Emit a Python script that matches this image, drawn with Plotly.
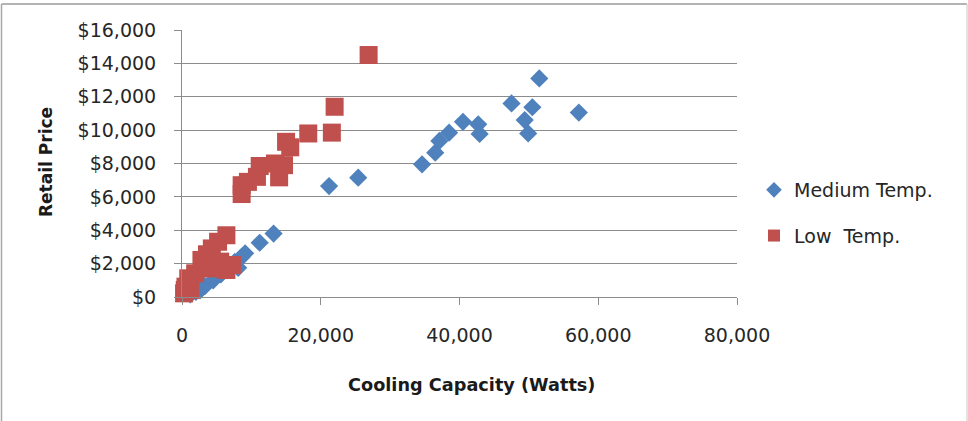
import plotly.graph_objects as go

# Refrigeration units: cooling capacity (W) vs retail price (USD)
medium_watts = [1200, 2000, 2600, 3300, 4500, 5600, 6800, 7600, 8100, 8600, 9100,
                11200, 13200, 21200, 25400, 34600, 36500, 37100, 38500, 40500,
                42700, 42900, 47500, 49400, 49900, 50500, 51500, 57200]
medium_price = [150, 300, 400, 650, 1000, 1350, 1700, 2100, 1750, 2400, 2620,
                3250, 3800, 6650, 7150, 7950, 8650, 9350, 9850, 10500,
                10350, 9770, 11600, 10600, 9800, 11370, 13100, 11050]

low_watts = [300, 400, 500, 900, 1200, 1900, 2800, 3000, 3600, 4300, 4500, 5200,
             5500, 6000, 6400, 6400, 7200, 8600, 8600, 9500, 10800, 11200, 13400,
             14000, 14700, 15000, 15600, 18200, 21600, 22000, 26900]
low_price = [220, 420, 620, 1120, 420, 1420, 2220, 1720, 2560, 2910, 1720, 3310,
             2120, 1720, 3700, 1620, 1920, 6170, 6700, 6900, 7200, 7850, 8000,
             7170, 7900, 9300, 8970, 9800, 9850, 11400, 14500]

x_ticks = [0, 20000, 40000, 60000, 80000]
y_ticks = [0, 2000, 4000, 6000, 8000, 10000, 12000, 14000, 16000]

FONT = "DejaVu Sans"
TEXT = "#262626"
GRID = "#8c8c8c"

W, H = 968, 421
L, R, T, B = 182, 231, 30, 124
pw, ph = W - L - R, H - T - B


def px_x(p):
    return (p - L) / pw


def px_y(p):
    return 1 - (p - T) / ph


fig = go.Figure()
fig.add_trace(go.Scatter(
    x=medium_watts, y=medium_price, mode="markers", name="Medium Temp.",
    legendgroup="m", cliponaxis=False,
    marker=dict(symbol="diamond", size=14, color="#4F81BD", line=dict(width=0)),
))
fig.add_trace(go.Scatter(
    x=low_watts, y=low_price, mode="markers", name="Low  Temp.",
    legendgroup="l", cliponaxis=False,
    marker=dict(symbol="square", size=18, color="#C0504D", line=dict(width=0)),
))

fig.update_layout(
    width=W, height=H,
    margin=dict(l=L, r=R, t=T, b=B, autoexpand=False),
    paper_bgcolor="white", plot_bgcolor="white",
    font=dict(family=FONT, size=19, color=TEXT),
    showlegend=True,
    legend=dict(
        x=px_x(754), y=px_y(171), xanchor="left", yanchor="top",
        font=dict(family=FONT, size=19, color=TEXT),
        itemsizing="constant", tracegroupgap=18,
        bgcolor="rgba(0,0,0,0)",
    ),
    xaxis=dict(
        range=[0, 80000], tickvals=x_ticks, tickformat=",",
        showgrid=False, zeroline=False,
        showline=True, linecolor=GRID, linewidth=1,
        ticks="outside", ticklen=7, tickcolor=GRID, tickwidth=1,
        ticklabelstandoff=14,
        tickfont=dict(family=FONT, size=19, color=TEXT),
    ),
    yaxis=dict(
        range=[0, 16000], tickvals=y_ticks, tickformat="$,",
        showgrid=True, gridcolor=GRID, gridwidth=1, zeroline=False,
        showline=True, linecolor=GRID, linewidth=1,
        ticks="outside", ticklen=7, tickcolor=GRID, tickwidth=1,
        ticklabelstandoff=14,
        tickfont=dict(family=FONT, size=19, color=TEXT),
    ),
    annotations=[
        dict(text="<b>Cooling Capacity (Watts)</b>", xref="paper", yref="paper",
             x=px_x(471), y=px_y(385), xanchor="center", yanchor="middle",
             showarrow=False, font=dict(family=FONT, size=17.7, color="#1a1a1a")),
        dict(text="<b>Retail Price</b>", xref="paper", yref="paper",
             x=px_x(46), y=px_y(162), xanchor="center", yanchor="middle",
             textangle=-90, showarrow=False,
             font=dict(family=FONT, size=17, color="#1a1a1a")),
    ],
    shapes=[
        dict(type="line", xref="paper", yref="paper", x0=px_x(1.5), x1=px_x(967),
             y0=px_y(4), y1=px_y(4), line=dict(color="#9a9a9a", width=1.5)),
        dict(type="line", xref="paper", yref="paper", x0=px_x(1.5), x1=px_x(1.5),
             y0=px_y(4), y1=px_y(430), line=dict(color="#a6a6a6", width=1.5)),
        dict(type="line", xref="paper", yref="paper", x0=px_x(967), x1=px_x(967),
             y0=px_y(4), y1=px_y(430), line=dict(color="#d9d9d9", width=1.5)),
    ],
)

fig.write_html("out.html")
